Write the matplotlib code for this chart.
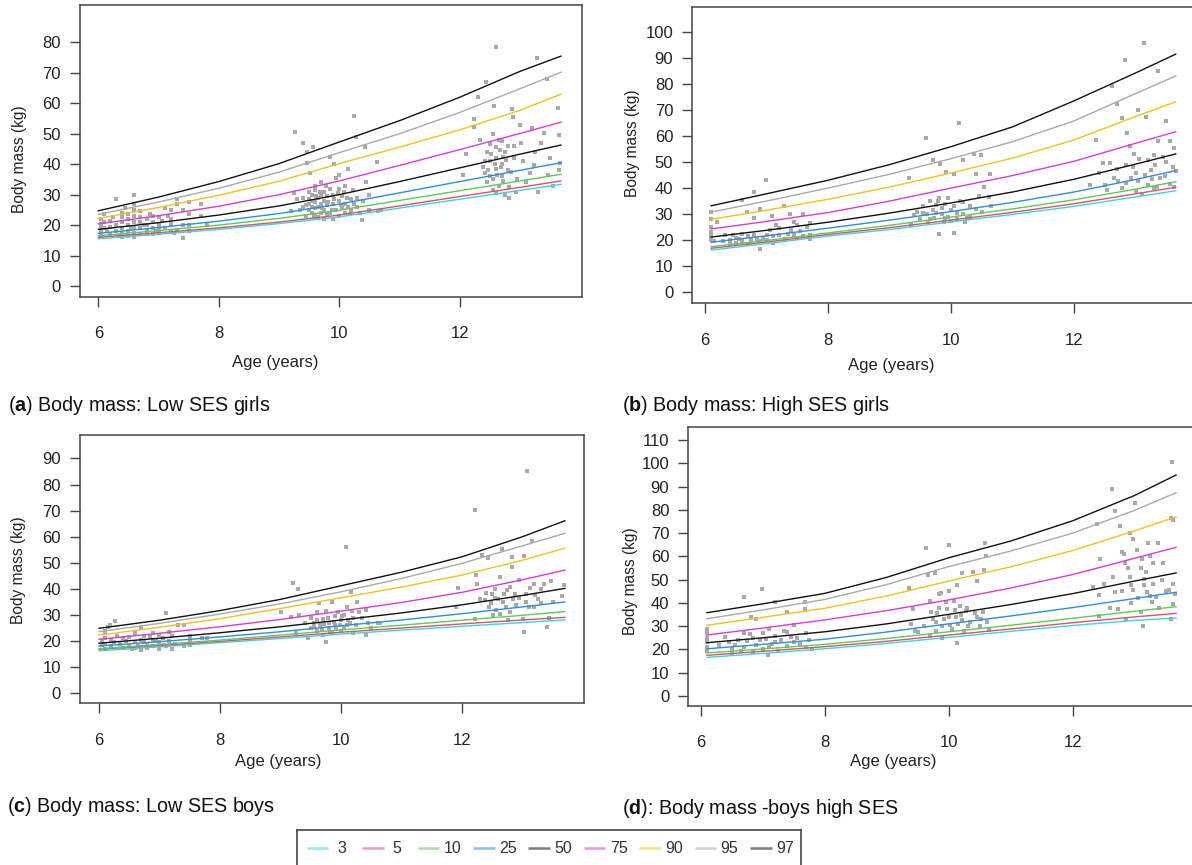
import matplotlib

matplotlib.use("Agg")
import matplotlib.pyplot as plt

W, H = 1192, 865

plt.rcParams["font.family"] = ["Liberation Sans", "DejaVu Sans"]
plt.rcParams["mathtext.fontset"] = "custom"
plt.rcParams["mathtext.rm"] = "Liberation Sans"
plt.rcParams["mathtext.bf"] = "Liberation Sans:bold"

CENTILES = [3, 5, 10, 25, 50, 75, 90, 95, 97]
COLORS = ["#35d8e4", "#e4506c", "#5ccb57", "#2d8ce4", "#111111",
          "#d93bd4", "#f3c21a", "#aaaaaa", "#111111"]

# --------------------------------------------------------------------------- #
# (a) Low SES girls
# --------------------------------------------------------------------------- #
AGES_A = [6.0, 7, 8, 9, 10, 11, 12, 13, 13.68]
CURVES_A = {
    3:  [15.5, 17.0, 18.6, 20.5, 22.7, 25.6, 28.5, 31.4, 33.4],
    5:  [16.0, 17.5, 19.1, 21.0, 23.3, 26.3, 29.4, 32.4, 34.5],
    10: [16.5, 18.2, 20.0, 22.2, 24.9, 28.1, 31.3, 34.5, 36.7],
    25: [17.3, 19.2, 21.3, 23.8, 26.9, 30.6, 34.3, 38.0, 40.5],
    50: [18.6, 20.8, 23.3, 26.3, 30.0, 34.3, 38.8, 43.3, 46.3],
    75: [20.4, 23.1, 26.2, 30.0, 34.5, 39.6, 44.8, 50.1, 53.8],
    90: [22.2, 25.8, 29.8, 34.4, 40.2, 45.6, 51.3, 57.7, 63.0],
    95: [23.5, 27.6, 32.1, 37.4, 43.8, 50.0, 57.0, 64.8, 70.2],
    97: [24.7, 29.2, 34.3, 40.2, 47.3, 54.3, 62.0, 70.5, 75.5],
}
POINTS_A = [
    (6.05, 16.5), (6.05, 17.5), (6.05, 18.5), (6.05, 19.5), (6.05, 20.5), (6.05, 22), (6.1, 23.5),
    (6.1, 19), (6.1, 21), (6.2, 17), (6.2, 19.5), (6.2, 21.5), (6.3, 28.6), (6.3, 18), (6.3, 20),
    (6.4, 16), (6.4, 17.5), (6.4, 19), (6.4, 21), (6.4, 22.5), (6.4, 24), (6.45, 25.5),
    (6.5, 16.5), (6.5, 18), (6.5, 20), (6.5, 22), (6.5, 23.5), (6.6, 16), (6.6, 17.5), (6.6, 19),
    (6.6, 21), (6.6, 23), (6.6, 25), (6.6, 27), (6.6, 29.8), (6.7, 17), (6.7, 19), (6.7, 21),
    (6.7, 22.5), (6.7, 24.5), (6.8, 17), (6.8, 18.5), (6.8, 20), (6.8, 22), (6.9, 17), (6.9, 19),
    (6.9, 21), (6.9, 23), (7.0, 17.5), (7.0, 19), (7.0, 20.5), (7.0, 22.5), (7.1, 19), (7.1, 25.5),
    (7.2, 18), (7.2, 20.5), (7.2, 22), (7.2, 25), (7.3, 18.5), (7.3, 27), (7.3, 28.5), (7.4, 15.8),
    (7.4, 20), (7.4, 25), (7.5, 18), (7.5, 20), (7.5, 23.5), (7.5, 27.5), (7.7, 23), (7.7, 27),
    (7.8, 20), (6.15, 18), (6.25, 22.5), (6.35, 16.5), (6.55, 19), (6.75, 20), (6.85, 23.5),
    (6.95, 18), (7.05, 21.5), (7.15, 23), (7.25, 17.5),
    (9.2, 24.5), (9.25, 30.5), (9.26, 50.7), (9.3, 28.5), (9.35, 25), (9.39, 47), (9.4, 26),
    (9.4, 29), (9.45, 23), (9.46, 44.1), (9.47, 40.3), (9.5, 25), (9.5, 27), (9.5, 28.5),
    (9.51, 37), (9.55, 24), (9.55, 26), (9.55, 30), (9.57, 45.7), (9.6, 23), (9.6, 25.5),
    (9.6, 27.5), (9.6, 31.5), (9.6, 33), (9.65, 22.5), (9.65, 26), (9.65, 29), (9.7, 24), (9.7, 27),
    (9.7, 30), (9.7, 34), (9.75, 22), (9.75, 25), (9.75, 28), (9.75, 31), (9.8, 23.5), (9.8, 26.5),
    (9.8, 29.5), (9.85, 42.5), (9.85, 24), (9.85, 32), (9.9, 22), (9.9, 27), (9.9, 30), (9.92, 40),
    (9.95, 25), (9.95, 35.5), (10.0, 23), (10.0, 28), (10.0, 32), (10.0, 36.5), (10.05, 25.5),
    (10.05, 29.5), (10.1, 24), (10.1, 27), (10.1, 33), (10.15, 26), (10.15, 38.5), (10.2, 25),
    (10.2, 28.5), (10.24, 55.9), (10.25, 27), (10.28, 48.8), (10.3, 29), (10.35, 24), (10.38, 21.7),
    (10.4, 28), (10.43, 45.8), (10.44, 34), (10.5, 25), (10.5, 30), (10.62, 40.8), (10.65, 24.5),
    (10.7, 25), (9.45, 26.5), (9.5, 31), (9.55, 28), (9.58, 22.5), (9.62, 29.5), (9.68, 31),
    (9.72, 25.5), (9.78, 33), (9.82, 27.5), (9.88, 25), (9.92, 28.5), (9.97, 30.5), (10.02, 26.5),
    (10.07, 31), (10.12, 29), (10.18, 23.5), (10.22, 31.5), (10.3, 26),
    (12.05, 36.5), (12.11, 43.5), (12.23, 52.3), (12.24, 55), (12.3, 62), (12.33, 47.9),
    (12.38, 39.2), (12.41, 37), (12.43, 67.1), (12.45, 44), (12.45, 34), (12.5, 41), (12.5, 46.5),
    (12.5, 36), (12.55, 50), (12.56, 59), (12.6, 78.6), (12.6, 45.7), (12.6, 30.4), (12.6, 42),
    (12.6, 38.5), (12.65, 33), (12.65, 48), (12.7, 36), (12.71, 42.4), (12.7, 40), (12.75, 44),
    (12.75, 30), (12.8, 38), (12.82, 32.5), (12.82, 28.8), (12.86, 58), (12.88, 55.6), (12.9, 46),
    (12.93, 31), (12.95, 35), (13.0, 53), (13.02, 46.8), (13.05, 41), (13.1, 34), (13.16, 37),
    (13.2, 51.8), (13.23, 39.8), (13.25, 44), (13.28, 74.8), (13.3, 31), (13.35, 47), (13.39, 50.2),
    (13.45, 68.1), (13.46, 36.5), (13.5, 42), (13.55, 33), (13.63, 58.6), (13.64, 49.7),
    (13.67, 40.3), (13.65, 38), (12.42, 41), (12.47, 38), (12.52, 43.5), (12.55, 35), (12.58, 40),
    (12.62, 36.5), (12.66, 44.5), (12.68, 39), (12.72, 34.5), (12.77, 41.5), (12.8, 46),
    (12.85, 37.5), (12.9, 42), (12.55, 31.5), (12.7, 47.5),
]

# --------------------------------------------------------------------------- #
# (b) High SES girls
# --------------------------------------------------------------------------- #
AGES_B = [6.1, 7, 8, 9, 10, 11, 12, 13, 13.65]
CURVES_B = {
    3:  [16.2, 18.7, 21.6, 24.1, 27.0, 29.9, 33.0, 36.6, 39.0],
    5:  [16.9, 19.3, 22.2, 24.8, 27.7, 30.7, 34.0, 37.8, 40.3],
    10: [17.5, 19.9, 22.8, 25.7, 28.9, 32.0, 35.5, 39.6, 42.4],
    25: [19.2, 21.7, 24.6, 27.7, 31.0, 34.5, 38.5, 43.3, 46.7],
    50: [21.2, 23.8, 26.9, 30.4, 34.3, 38.5, 43.4, 49.2, 53.1],
    75: [24.3, 27.2, 30.6, 35.0, 40.0, 44.8, 50.3, 57.2, 61.6],
    90: [28.0, 31.5, 35.7, 40.4, 45.8, 51.5, 58.5, 67.5, 73.1],
    95: [30.8, 35.0, 40.0, 45.3, 51.3, 57.8, 65.8, 76.3, 83.0],
    97: [33.2, 37.8, 43.0, 49.0, 55.9, 63.5, 73.5, 84.2, 91.4],
}
POINTS_B = [
    (6.1, 31), (6.1, 28), (6.1, 25), (6.1, 23), (6.1, 21.5), (6.1, 20), (6.15, 19.5), (6.2, 26.8),
    (6.32, 22), (6.4, 20), (6.4, 18.5), (6.5, 21), (6.5, 19), (6.6, 22.5), (6.6, 35.5), (6.6, 19.5),
    (6.68, 30.7), (6.7, 21.5), (6.75, 20), (6.79, 38.5), (6.8, 28.6), (6.8, 22), (6.85, 20.5),
    (6.89, 32), (6.89, 16.6), (6.9, 19.5), (6.99, 43), (7.0, 22), (7.0, 20), (7.05, 24),
    (7.09, 29.3), (7.1, 21.5), (7.15, 26), (7.2, 22), (7.29, 33.1), (7.3, 20.5), (7.38, 29.9),
    (7.4, 24), (7.45, 22), (7.5, 26), (7.5, 21), (7.55, 23.5), (7.6, 29.9), (7.65, 25), (7.7, 22),
    (7.7, 20.5), (6.3, 19.5), (6.45, 22), (6.55, 20.5), (6.7, 18.5), (6.95, 21), (7.1, 19),
    (7.2, 24.5), (7.35, 22.5), (7.45, 27), (7.6, 21.5), (7.7, 26.5),
    (9.32, 43.7), (9.35, 26), (9.4, 29.5), (9.45, 31), (9.5, 28), (9.55, 33), (9.59, 59.3),
    (9.6, 30), (9.62, 27), (9.65, 35), (9.7, 50.7), (9.7, 31.5), (9.72, 28.5), (9.75, 33.5),
    (9.8, 22.4), (9.8, 36), (9.82, 49.4), (9.85, 30), (9.88, 27), (9.9, 34), (9.92, 46.2),
    (9.95, 29), (10.0, 31.5), (10.04, 45.5), (10.05, 22.8), (10.1, 28), (10.13, 64.8), (10.15, 35),
    (10.19, 50.7), (10.2, 30), (10.25, 28.5), (10.3, 33), (10.38, 53.2), (10.41, 45.5), (10.45, 37),
    (10.48, 52.6), (10.5, 31), (10.53, 40.5), (10.62, 36.7), (10.64, 45.5), (10.65, 33),
    (9.55, 30.5), (9.65, 28), (9.75, 30.5), (9.78, 35), (9.85, 32.5), (9.9, 28.5), (9.95, 36),
    (10.0, 27.5), (10.05, 33), (10.1, 30.5), (10.2, 34.5), (10.22, 27), (10.3, 29), (10.4, 32),
    (12.26, 41.3), (12.35, 58.3), (12.4, 45.8), (12.47, 49.6), (12.5, 41), (12.53, 39.2),
    (12.59, 49.6), (12.61, 79.2), (12.65, 44), (12.69, 72.3), (12.72, 42.7), (12.77, 66.7),
    (12.78, 40.2), (12.82, 89.2), (12.84, 49), (12.86, 61.3), (12.9, 56), (12.92, 44), (12.98, 53.1),
    (13.01, 45.8), (13.03, 70), (13.04, 42.7), (13.1, 37.6), (13.13, 95.5), (13.17, 67.3),
    (13.2, 50.7), (13.26, 43.3), (13.3, 40), (13.32, 48.9), (13.35, 40.3), (13.36, 85),
    (13.37, 57.9), (13.45, 52), (13.47, 44.6), (13.49, 65.9), (13.56, 58), (13.6, 48), (13.63, 55.5),
    (13.66, 46.5), (13.62, 40.5), (12.7, 47.5), (12.85, 42), (12.95, 48), (13.0, 39), (13.05, 51),
    (13.15, 45), (13.2, 41), (13.25, 47), (13.3, 52.5), (13.4, 44), (13.5, 50), (13.55, 41.5),
]

# --------------------------------------------------------------------------- #
# (c) Low SES boys
# --------------------------------------------------------------------------- #
AGES_C = [6.0, 7, 8, 9, 10, 11, 12, 13, 13.7]
CURVES_C = {
    3:  [16.3, 17.8, 19.4, 21.0, 22.7, 24.2, 25.7, 27.1, 28.1],
    5:  [16.9, 18.3, 19.9, 21.6, 23.4, 25.0, 26.6, 28.1, 29.1],
    10: [17.1, 18.7, 20.4, 22.3, 24.3, 26.1, 28.0, 29.9, 31.3],
    25: [18.1, 19.8, 21.6, 23.6, 25.9, 28.1, 30.5, 33.1, 35.0],
    50: [19.2, 21.1, 23.2, 25.5, 28.1, 30.8, 33.9, 37.5, 40.2],
    75: [20.7, 23.0, 25.5, 28.3, 31.5, 34.8, 38.7, 43.5, 47.2],
    90: [22.3, 25.3, 28.6, 32.5, 36.6, 40.7, 45.3, 51.0, 55.6],
    95: [23.6, 26.8, 30.4, 34.3, 38.9, 44.0, 49.8, 56.5, 61.3],
    97: [24.9, 28.0, 31.7, 36.0, 41.2, 46.4, 52.3, 60.0, 66.1],
}
POINTS_C = [
    (6.05, 20), (6.05, 18.5), (6.1, 17), (6.1, 19), (6.1, 21), (6.1, 23), (6.15, 25.5), (6.19, 26),
    (6.2, 18), (6.2, 20.5), (6.27, 27.7), (6.3, 22), (6.35, 19), (6.4, 17.5), (6.45, 20), (6.5, 18),
    (6.5, 21.5), (6.55, 17), (6.6, 19.5), (6.6, 23), (6.65, 18), (6.7, 16.5), (6.7, 20.5), (6.7, 25),
    (6.75, 22), (6.8, 17.5), (6.8, 19), (6.85, 21.5), (6.9, 18), (6.9, 23), (6.95, 20), (7.0, 17),
    (7.0, 19.5), (7.0, 22.5), (7.05, 21), (7.1, 30.9), (7.1, 18), (7.15, 20), (7.2, 17), (7.2, 22),
    (7.31, 26.1), (7.4, 26.1), (7.5, 18.5), (7.5, 20.5), (7.5, 22), (7.7, 21), (7.78, 21.3),
    (6.1, 24), (6.25, 19.5), (6.4, 21), (6.6, 17.5), (6.75, 19.5), (6.9, 20.5), (7.05, 18.5),
    (7.15, 23.5), (7.25, 19), (7.4, 18),
    (9.0, 31), (9.17, 29.4), (9.2, 42.1), (9.25, 23), (9.29, 39.8), (9.3, 30), (9.4, 27),
    (9.45, 21.1), (9.5, 29), (9.5, 25), (9.55, 27), (9.6, 24), (9.6, 31), (9.64, 34.5), (9.65, 26),
    (9.7, 22.5), (9.7, 28.5), (9.75, 31.5), (9.76, 19.8), (9.8, 25), (9.8, 27), (9.85, 35.1),
    (9.85, 23), (9.9, 29.5), (9.9, 26), (9.95, 31), (10.0, 24), (10.0, 28), (10.05, 30),
    (10.08, 56.2), (10.1, 26), (10.1, 33), (10.15, 27), (10.17, 38.9), (10.2, 23), (10.2, 29),
    (10.26, 35.1), (10.3, 31), (10.42, 31.9), (10.42, 22.3), (10.45, 27), (10.5, 25), (10.61, 26.8),
    (10.65, 27), (9.55, 25.5), (9.6, 28), (9.68, 24.5), (9.72, 26.5), (9.78, 29), (9.82, 23.5),
    (9.88, 27.5), (9.92, 24.5), (9.98, 26), (10.02, 29.5), (10.05, 25), (10.12, 28), (10.18, 31.5),
    (10.25, 26), (10.35, 29),
    (11.9, 33), (11.93, 40.2), (12.22, 70.2), (12.22, 28.5), (12.23, 45.3), (12.25, 41.8),
    (12.3, 36), (12.33, 52.9), (12.38, 35.6), (12.43, 51.9), (12.45, 33), (12.5, 38.2), (12.52, 30),
    (12.55, 40), (12.57, 31.8), (12.6, 36), (12.63, 44.7), (12.66, 55.2), (12.7, 38), (12.72, 33),
    (12.76, 27.9), (12.79, 40.8), (12.82, 52.4), (12.82, 48.5), (12.85, 36), (12.9, 34),
    (12.94, 43.3), (13.0, 28.5), (13.02, 52.6), (13.03, 23.4), (13.05, 38), (13.07, 85.3),
    (13.1, 33), (13.16, 58.5), (13.19, 42), (13.19, 33), (13.25, 36), (13.3, 40), (13.41, 25.3),
    (13.44, 29), (13.47, 43), (13.5, 35), (13.66, 37.4), (13.68, 41.4), (12.4, 38.5), (12.48, 34.5),
    (12.55, 36.5), (12.62, 30.5), (12.68, 35), (12.75, 39.5), (12.8, 31), (12.88, 38),
    (12.95, 36.5), (13.05, 35), (13.12, 40.5), (13.2, 37.5), (13.3, 34.5), (13.35, 42),
]

# --------------------------------------------------------------------------- #
# (d) High SES boys
# --------------------------------------------------------------------------- #
AGES_D = [6.1, 7, 8, 9, 10, 11, 12, 13, 13.67]
CURVES_D = {
    3:  [16.6, 18.3, 20.3, 22.6, 25.2, 27.8, 30.3, 32.5, 33.5],
    5:  [17.5, 19.2, 21.2, 23.5, 26.2, 28.8, 31.5, 34.0, 35.5],
    10: [18.5, 20.2, 22.2, 24.7, 27.6, 30.4, 33.4, 36.4, 38.4],
    25: [20.3, 22.2, 24.4, 27.5, 31.0, 34.4, 38.0, 41.9, 44.6],
    50: [22.9, 25.0, 27.6, 31.0, 35.1, 39.3, 44.0, 49.4, 52.9],
    75: [26.2, 29.2, 32.7, 36.7, 41.3, 46.4, 52.2, 59.2, 63.9],
    90: [30.4, 33.8, 37.7, 43.0, 49.4, 55.5, 62.5, 71.0, 77.0],
    95: [33.2, 37.0, 41.5, 47.9, 55.6, 62.3, 70.0, 79.8, 87.4],
    97: [35.8, 39.6, 44.1, 51.0, 59.4, 66.6, 75.3, 86.2, 95.0],
}
POINTS_D = [
    (6.1, 29), (6.1, 27), (6.1, 25), (6.1, 23), (6.1, 21), (6.1, 19.5), (6.4, 25.5), (6.45, 23),
    (6.5, 20), (6.5, 18.5), (6.6, 24), (6.7, 42.7), (6.7, 27), (6.7, 21), (6.75, 23.5), (6.81, 34),
    (6.85, 19), (6.85, 25), (6.9, 32.9), (6.9, 22), (6.99, 45.9), (7.0, 27), (7.0, 20), (7.05, 24.5),
    (7.09, 17.6), (7.1, 29), (7.15, 22.5), (7.2, 40.5), (7.2, 26), (7.25, 19.5), (7.3, 24),
    (7.39, 36.2), (7.4, 27.5), (7.4, 21.5), (7.5, 30.5), (7.5, 23), (7.55, 25), (7.68, 40.5),
    (7.68, 37.6), (7.7, 27), (7.7, 21), (7.75, 24), (7.8, 20), (6.3, 22), (6.55, 22), (6.65, 19.5),
    (6.8, 26.5), (6.95, 24), (7.1, 21), (7.2, 23), (7.35, 28), (7.45, 25.5), (7.6, 22.5),
    (9.36, 46.5), (9.4, 31), (9.42, 37.2), (9.45, 28), (9.5, 27.5), (9.6, 30), (9.63, 63.5),
    (9.66, 52.1), (9.7, 41), (9.7, 26), (9.72, 36), (9.78, 52.8), (9.8, 32), (9.8, 28), (9.85, 44),
    (9.85, 38), (9.88, 44.4), (9.9, 30), (9.9, 25), (9.95, 40.5), (10.0, 45.1), (10.0, 34),
    (10.01, 64.9), (10.05, 29), (10.1, 37), (10.13, 47.9), (10.13, 22.6), (10.15, 31), (10.2, 35),
    (10.21, 52.8), (10.25, 28), (10.3, 38), (10.35, 32), (10.4, 53.5), (10.45, 34), (10.46, 49.5),
    (10.5, 30), (10.55, 36), (10.57, 54.2), (10.59, 65.9), (10.6, 60), (10.62, 32), (10.65, 28.5),
    (9.75, 33), (9.82, 35.5), (9.92, 33), (9.98, 37.5), (10.02, 30.5), (10.08, 41), (10.12, 34),
    (10.18, 38.5), (10.22, 32.5), (10.28, 36.5), (10.32, 30), (10.42, 35.5), (10.52, 33),
    (12.33, 46.8), (12.39, 74), (12.43, 43.2), (12.43, 34.3), (12.45, 58.8), (12.5, 48), (12.6, 38),
    (12.63, 89), (12.65, 51.3), (12.68, 44.7), (12.69, 79.4), (12.74, 37.5), (12.76, 73.1),
    (12.8, 62), (12.83, 61.2), (12.86, 33.2), (12.9, 55), (12.92, 69.9), (12.92, 51.3), (12.95, 40),
    (12.98, 67.7), (12.98, 45.4), (13.0, 82.9), (13.04, 62.7), (13.1, 36), (13.12, 59.1),
    (13.14, 30.1), (13.16, 47.5), (13.19, 53.5), (13.21, 65.9), (13.25, 43), (13.28, 40.4),
    (13.3, 57), (13.37, 65.6), (13.4, 38), (13.46, 57.3), (13.5, 45), (13.59, 76.5), (13.59, 33.2),
    (13.6, 100.7), (13.62, 75.5), (13.62, 48.3), (13.62, 39.7), (13.65, 44), (12.8, 45), (12.85, 57),
    (12.95, 47.5), (13.05, 42), (13.1, 55), (13.15, 50.5), (13.2, 44.5), (13.25, 60), (13.3, 48),
    (13.35, 42.5), (13.45, 50), (13.55, 45.5),
]

# Panel layout in pixels: (left, top, right, bottom) of the plot box, axis limits,
# y ticks, label anchors and caption.
PANELS = [
    dict(box=(80, 5, 581.7, 297), xlim=(5.696, 14.023), ylim=(-3.61, 92.28), ymax=80,
         ylab=(20, 159), xlab=(275, 363), cap=(8, 405),
         caption=r"($\mathbf{a}$) Body mass: Low SES girls",
         ages=AGES_A, curves=CURVES_A, points=POINTS_A),
    dict(box=(692.3, 6.7, 1204, 303.3), xlim=(5.7935, 14.11), ylim=(-4.22, 109.6), ymax=100,
         ylab=(633, 143), xlab=(891.7, 365), cap=(621.7, 405),
         caption=r"($\mathbf{b}$) Body mass: High SES girls",
         ages=AGES_B, curves=CURVES_B, points=POINTS_B),
    dict(box=(80, 435, 584.4, 703.3), xlim=(5.686, 14.023), ylim=(-3.83, 98.97), ymax=90,
         ylab=(18.3, 570), xlab=(278.3, 761.7), cap=(7.3, 806.7),
         caption=r"($\mathbf{c}$) Body mass: Low SES boys",
         ages=AGES_C, curves=CURVES_C, points=POINTS_C),
    dict(box=(688.3, 427.3, 1204, 706), xlim=(5.80, 14.12), ylim=(-4.3, 115.5), ymax=110,
         ylab=(630.7, 581.3), xlab=(893.3, 761.7), cap=(621.7, 808),
         caption=r"($\mathbf{d}$): Body mass -boys high SES",
         ages=AGES_D, curves=CURVES_D, points=POINTS_D),
]

FRAME = "#444444"


def px_axes(fig, left, top, right, bottom):
    return fig.add_axes([left / W, 1 - bottom / H, (right - left) / W, (bottom - top) / H])


def draw_panel(fig, p):
    ax = px_axes(fig, *p["box"])
    for cent, col in zip(CENTILES, COLORS):
        ax.plot(p["ages"], p["curves"][cent], color=col, lw=1.0, zorder=3)
    xs = [a for a, _ in p["points"]]
    ys = [m for _, m in p["points"]]
    ax.scatter(xs, ys, marker="s", s=12, color="#a9a9a9", linewidths=0, zorder=2)

    ax.set_xlim(*p["xlim"])
    ax.set_ylim(*p["ylim"])
    ax.set_xticks([6, 8, 10, 12])
    ax.set_yticks(range(0, p["ymax"] + 1, 10))
    ax.tick_params(axis="both", direction="out", length=7.2, width=1.0, color=FRAME,
                   labelsize=12, labelcolor="#222222")
    ax.tick_params(axis="x", pad=14)
    ax.tick_params(axis="y", pad=6.5)
    for s in ax.spines.values():
        s.set_color(FRAME)
        s.set_linewidth(1.1)

    fig.text(p["ylab"][0] / W, 1 - p["ylab"][1] / H, "Body mass (kg)", rotation=90,
             ha="center", va="center", fontsize=11.2, color="#222222")
    fig.text(p["xlab"][0] / W, 1 - p["xlab"][1] / H, "Age (years)",
             ha="center", va="center", fontsize=12, color="#222222")
    fig.text(p["cap"][0] / W, 1 - p["cap"][1] / H, p["caption"],
             ha="left", va="center", fontsize=14.2, color="#111111")


def draw_legend(fig):
    lax = px_axes(fig, 297, 830, 801, 878)
    lax.set_xlim(297, 801)
    lax.set_ylim(878, 830)
    lax.set_xticks([])
    lax.set_yticks([])
    for s in lax.spines.values():
        s.set_color(FRAME)
        s.set_linewidth(1.2)
    for i, (cent, col) in enumerate(zip(CENTILES, COLORS)):
        x0 = 306.7 + i * 55.4
        lax.plot([x0, x0 + 21.7], [848, 848], color=col, lw=1.8, alpha=0.55,
                 solid_capstyle="butt")
        lax.text(x0 + 35, 848, str(cent), ha="center", va="center", fontsize=11.5,
                 color="#333333")


fig = plt.figure(figsize=(W / 100, H / 100), dpi=100)
for panel in PANELS:
    draw_panel(fig, panel)
draw_legend(fig)
fig.savefig("out.png", dpi=100)
